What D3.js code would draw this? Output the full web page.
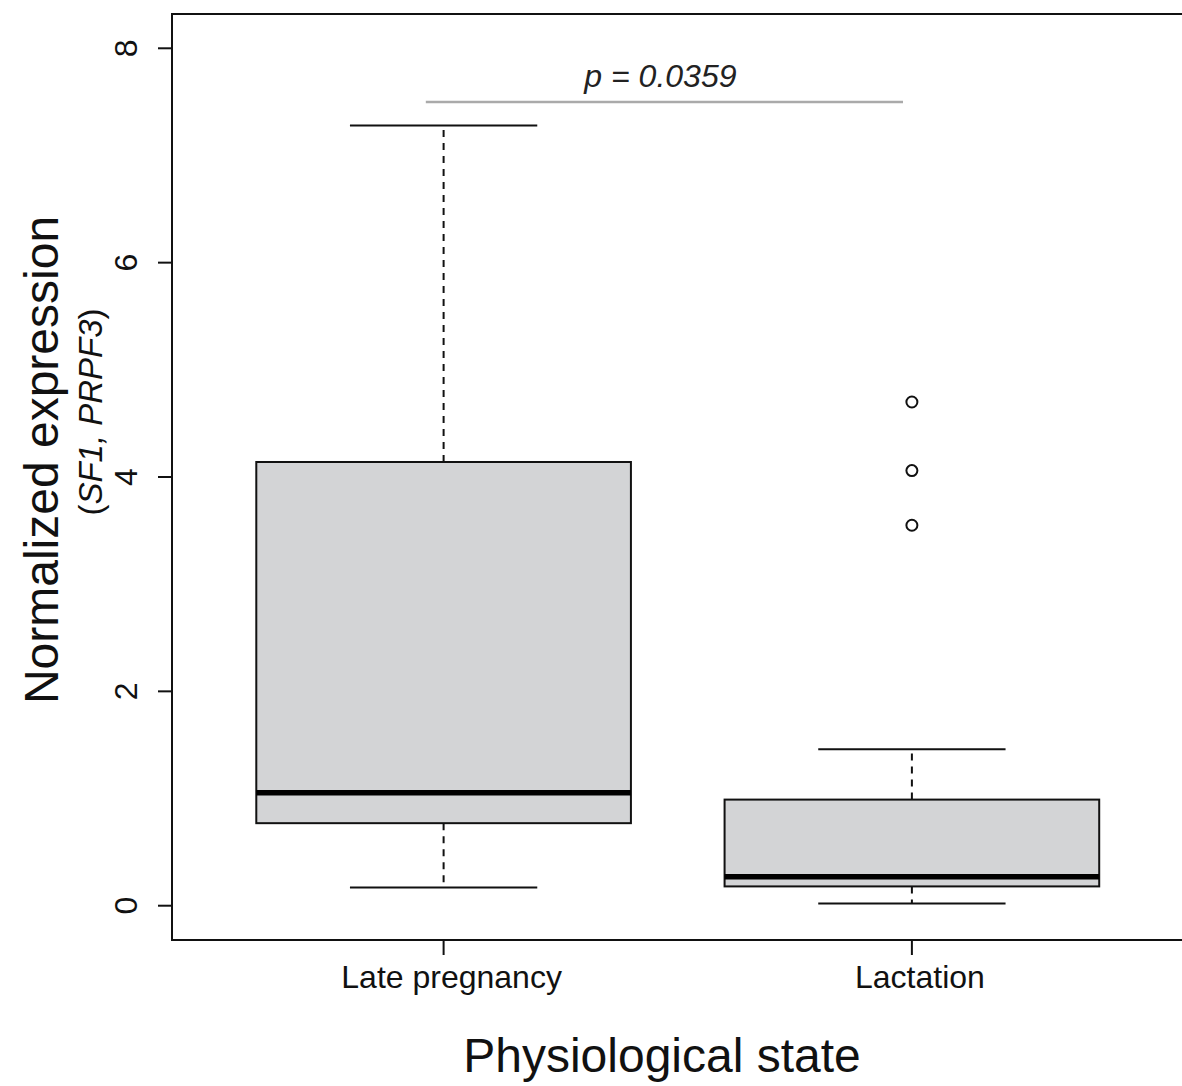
<!DOCTYPE html>
<html>
<head>
<meta charset="utf-8">
<script src="https://cdn.jsdelivr.net/npm/d3@7"></script>
<style>
  html, body { margin: 0; padding: 0; background: #fff; }
  svg { display: block; }
  text { font-family: "Liberation Sans", Arial, Helvetica, sans-serif; fill: #111; }
</style>
</head>
<body>
<svg id="chart" width="1182" height="1086"></svg>
<script>
// Groups and their five-number summaries (normalized expression)
const groups       = ["Late pregnancy", "Lactation"];
const whiskerLow   = [0.17, 0.02];
const quartile1    = [0.77, 0.18];
const medians      = [1.055, 0.27];
const quartile3    = [4.14, 0.99];
const whiskerHigh  = [7.28, 1.46];
const outliers     = [[], [4.70, 4.06, 3.55]];

const yTicks       = [0, 2, 4, 6, 8];
const pLabel       = "p = 0.0359";
const pBarSpan     = [0.962, 1.981];
const pBarValue    = 7.5;
const pTextValue   = 7.72;

const svg = d3.select("#chart");

// Plot region (frame runs off the right edge)
const plotLeft = 172, plotRight = 1183.5, plotTop = 14, plotBottom = 940;

const x = d3.scaleLinear().domain([0.42, 2.58]).range([plotLeft, plotRight]);
const y = d3.scaleLinear().domain([-0.32, 8.32]).range([plotBottom, plotTop]);

const boxHalf = 0.4;
const stapleHalf = 0.2;

const data = groups.map((name, i) => ({
  name, pos: i + 1,
  lo: whiskerLow[i], q1: quartile1[i], med: medians[i], q3: quartile3[i], hi: whiskerHigh[i],
  out: outliers[i]
}));

const g = svg.append("g");

data.forEach(d => {
  // Whiskers (dashed) and staples
  [[d.q3, d.hi], [d.q1, d.lo]].forEach(([a, b]) => {
    g.append("line")
      .attr("x1", x(d.pos)).attr("x2", x(d.pos))
      .attr("y1", y(a)).attr("y2", y(b))
      .attr("stroke", "#111").attr("stroke-width", 2).attr("stroke-dasharray", "7,6");
  });
  [d.lo, d.hi].forEach(v => {
    g.append("line")
      .attr("x1", x(d.pos - stapleHalf)).attr("x2", x(d.pos + stapleHalf))
      .attr("y1", y(v)).attr("y2", y(v))
      .attr("stroke", "#111").attr("stroke-width", 2);
  });
  // Box
  g.append("rect")
    .attr("x", x(d.pos - boxHalf)).attr("width", x(d.pos + boxHalf) - x(d.pos - boxHalf))
    .attr("y", y(d.q3)).attr("height", y(d.q1) - y(d.q3))
    .attr("fill", "#d3d4d6").attr("stroke", "#111").attr("stroke-width", 2);
  // Median
  g.append("line")
    .attr("x1", x(d.pos - boxHalf)).attr("x2", x(d.pos + boxHalf))
    .attr("y1", y(d.med)).attr("y2", y(d.med))
    .attr("stroke", "#000").attr("stroke-width", 5.5);
  // Outliers
  d.out.forEach(v => {
    g.append("circle")
      .attr("cx", x(d.pos)).attr("cy", y(v)).attr("r", 5.5)
      .attr("fill", "none").attr("stroke", "#111").attr("stroke-width", 2);
  });
});

// Significance bar
g.append("line")
  .attr("x1", x(pBarSpan[0])).attr("x2", x(pBarSpan[1]))
  .attr("y1", y(pBarValue)).attr("y2", y(pBarValue))
  .attr("stroke", "#aaaaaa").attr("stroke-width", 2.5);
g.append("text")
  .attr("x", x((pBarSpan[0] + pBarSpan[1]) / 2) - 4).attr("y", y(pTextValue))
  .attr("text-anchor", "middle").attr("dominant-baseline", "middle")
  .attr("font-size", 32).attr("font-style", "italic").style("fill", "#222")
  .text(pLabel);

// Frame: left, top, bottom
svg.append("path")
  .attr("d", `M${plotRight + 2},${plotTop}H${plotLeft}V${plotBottom}H${plotRight + 2}`)
  .attr("fill", "none").attr("stroke", "#111").attr("stroke-width", 2);

// Y axis
const yAxis = svg.append("g");
yTicks.forEach(t => {
  yAxis.append("line")
    .attr("x1", plotLeft - 14).attr("x2", plotLeft)
    .attr("y1", y(t)).attr("y2", y(t))
    .attr("stroke", "#111").attr("stroke-width", 2);
  yAxis.append("text")
    .attr("transform", `translate(${137},${y(t)}) rotate(-90)`)
    .attr("text-anchor", "middle")
    .attr("font-size", 32)
    .text(t);
});

// X axis
groups.forEach((name, i) => {
  svg.append("line")
    .attr("x1", x(i + 1)).attr("x2", x(i + 1))
    .attr("y1", plotBottom).attr("y2", plotBottom + 15)
    .attr("stroke", "#111").attr("stroke-width", 2);
  svg.append("text")
    .attr("x", x(i + 1) + 8).attr("y", 988)
    .attr("text-anchor", "middle").attr("font-size", 32)
    .text(name);
});

// Axis titles
svg.append("text")
  .attr("x", 662).attr("y", 1072)
  .attr("text-anchor", "middle").attr("font-size", 48)
  .text("Physiological state");

svg.append("text")
  .attr("transform", `translate(58,460) rotate(-90)`)
  .attr("text-anchor", "middle").attr("font-size", 48)
  .text("Normalized expression");

const sub = svg.append("text")
  .attr("transform", `translate(102,412) rotate(-90)`)
  .attr("text-anchor", "middle").attr("font-size", 33);
sub.append("tspan").text("(");
sub.append("tspan").attr("font-style", "italic").text("SF1,  PRPF3");
sub.append("tspan").text(")");
</script>
</body>
</html>
